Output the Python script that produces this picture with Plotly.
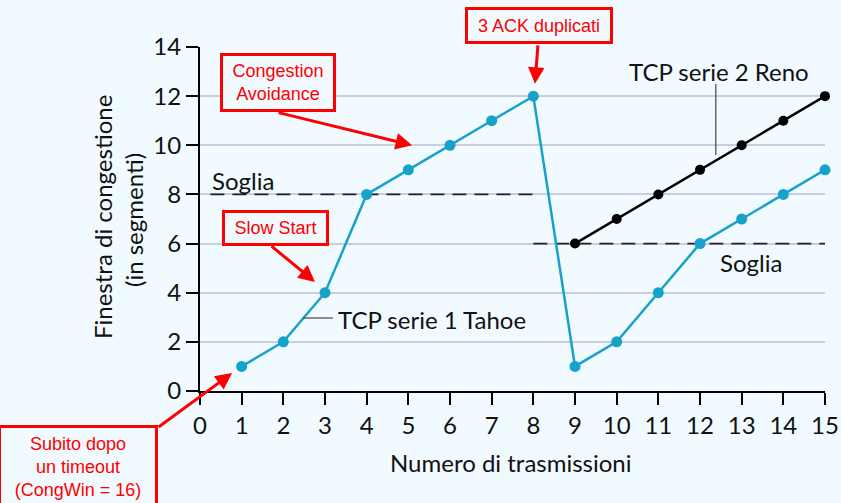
import plotly.graph_objects as go

# ---- data ----
transmissions = list(range(0, 16))
tahoe_x = [1, 2, 3, 4, 5, 6, 7, 8, 9, 10, 11, 12, 13, 14, 15]
tahoe_y = [1, 2, 4, 8, 9, 10, 11, 12, 1, 2, 4, 6, 7, 8, 9]
reno_x = [9, 10, 11, 12, 13, 14, 15]
reno_y = [6, 7, 8, 9, 10, 11, 12]
thresh1_x = [0.25, 8]
thresh1_y = [8, 8]
thresh2_x = [8, 15]
thresh2_y = [6, 6]
y_ticks = [0, 2, 4, 6, 8, 10, 12, 14]

W, H = 841, 503
L, R, T, B = 200, 16, 47, 112
PW, PH = W - L - R, H - T - B

def px(xp):
    return (xp - L) / PW

def py(yp):
    return (H - B - yp) / PH

BG = "rgb(240,250,255)"
CYAN = "#17A2C9"
RED = "#FF0000"
FONT = "Lato"
FS = 24

fig = go.Figure()
fig.add_trace(go.Scatter(x=thresh1_x, y=thresh1_y, mode="lines",
                         line=dict(color="#222", width=1.8, dash="14px,8px"),
                         hoverinfo="skip", showlegend=False))
fig.add_trace(go.Scatter(x=thresh2_x, y=thresh2_y, mode="lines",
                         line=dict(color="#222", width=1.8, dash="14px,8px"),
                         hoverinfo="skip", showlegend=False, cliponaxis=False))
fig.add_trace(go.Scatter(x=tahoe_x, y=tahoe_y, mode="lines+markers",
                         line=dict(color=CYAN, width=2.5),
                         marker=dict(color=CYAN, size=11),
                         cliponaxis=False, showlegend=False, name="TCP serie 1 Tahoe"))
fig.add_trace(go.Scatter(x=reno_x, y=reno_y, mode="lines+markers",
                         line=dict(color="black", width=2.5),
                         marker=dict(color="black", size=10),
                         cliponaxis=False, showlegend=False, name="TCP serie 2 Reno"))

annotations = []
black_font = dict(family=FONT, size=FS, color="#111")
red_font = dict(family="Liberation Sans, Arial", size=18, color=RED)

# Black labels
annotations += [
    dict(x=0.25, y=8.55, xref="x", yref="y", text="Soglia", showarrow=False,
         xanchor="left", yanchor="middle", font=black_font),
    dict(x=13.22, y=5.25, xref="x", yref="y", text="Soglia", showarrow=False,
         xanchor="center", yanchor="middle", font=black_font),
    dict(x=3.27, y=2.9, xref="x", yref="y", text="TCP serie 1 Tahoe", showarrow=False,
         xanchor="left", yanchor="middle", font=black_font),
    dict(x=12.45, y=13.0, xref="x", yref="y", text="TCP serie 2 Reno", showarrow=False,
         xanchor="center", yanchor="middle", font=black_font),
    # axis titles
    dict(x=px(511), y=py(462), xref="paper", yref="paper", text="Numero di trasmissioni",
         showarrow=False, xanchor="center", yanchor="middle", font=black_font),
    dict(x=px(102), y=py(217), xref="paper", yref="paper", text="Finestra di congestione",
         showarrow=False, textangle=-90, xanchor="center", yanchor="middle", font=black_font),
    dict(x=px(133), y=py(220), xref="paper", yref="paper", text="(in segmenti)",
         showarrow=False, textangle=-90, xanchor="center", yanchor="middle", font=black_font),
]

# Red boxed annotations
def red_box(cx, cy, w, h, text):
    return dict(x=px(cx), y=py(cy), xref="paper", yref="paper", text=text,
                showarrow=False, xanchor="center", yanchor="middle",
                width=w, height=h, align="center", valign="middle",
                bordercolor=RED, borderwidth=3, borderpad=0, bgcolor=BG,
                font=red_font)

annotations += [
    red_box(277.5, 83, 110, 53, "Congestion<br>Avoidance"),
    red_box(275, 228, 101, 30, "Slow Start"),
    red_box(538.5, 26, 142, 31, "3 ACK duplicati"),
    red_box(78, 467, 154, 78, "Subito dopo<br>un timeout<br>(CongWin = 16)"),
]

# Red arrows (tip in data coords, tail offset in px)
def red_arrow(x, y, ax, ay):
    return dict(x=x, y=y, xref="x", yref="y", ax=ax, ay=ay, axref="pixel", ayref="pixel",
                text="", showarrow=True, arrowhead=2, arrowsize=1.1, arrowwidth=3,
                arrowcolor=RED, standoff=0, startstandoff=0)

annotations += [
    red_arrow(5.09, 10.0, -135, -33),
    red_arrow(2.76, 4.44, -45, -37),
    red_arrow(8.04, 12.5, 3, -40),
    red_arrow(0.77, 0.73, -75, 55),
]

shapes = [
    dict(type="line", xref="x", yref="y", x0=2.47, y0=2.97, x1=3.19, y1=2.97,
         line=dict(color="#444", width=1.2)),
    dict(type="line", xref="x", yref="y", x0=12.38, y0=12.49, x1=12.38, y1=9.6,
         line=dict(color="#444", width=1.2)),
]

fig.update_layout(
    width=W, height=H,
    margin=dict(l=L, r=R, t=T, b=B, autoexpand=False),
    paper_bgcolor=BG, plot_bgcolor=BG,
    font=dict(family=FONT, size=FS, color="#111"),
    annotations=annotations, shapes=shapes,
    showlegend=False,
)
fig.update_xaxes(range=[0, 15], tickvals=transmissions, ticks="outside", ticklen=12,
                 tickwidth=1.5, tickcolor="black", showline=True, linecolor="black",
                 linewidth=2, showgrid=False, zeroline=False, automargin=False,
                 tickfont=dict(family=FONT, size=FS, color="#111"))
fig.update_yaxes(range=[0, 14], tickvals=y_ticks, ticks="outside", ticklen=12,
                 tickwidth=1.5, tickcolor="black", showline=True, linecolor="black",
                 linewidth=2, showgrid=True, gridcolor="#C5CFDF", gridwidth=1.5,
                 zeroline=False, automargin=False,
                 tickfont=dict(family=FONT, size=FS, color="#111"))

fig.write_html("out.html", config={"displayModeBar": False},
               post_script="document.body.style.margin='0';document.body.style.overflow='hidden';document.body.style.background='" + BG + "';")
